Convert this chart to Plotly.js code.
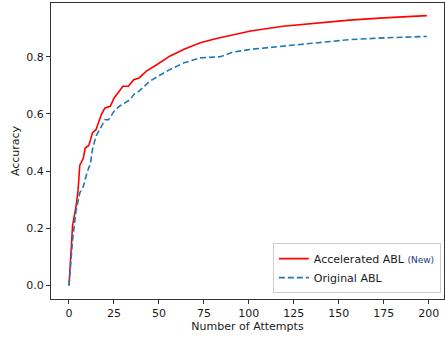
<!DOCTYPE html>
<html>
<head>
<meta charset="utf-8">
<script src="https://cdn.plot.ly/plotly-3.0.1.min.js"></script>
<style>html,body{margin:0;padding:0;background:#fff;}#chart{width:445px;height:339px;}</style>
</head>
<body>
<div id="chart"></div>
<script>
// Accelerated ABL (New) – attempts and accuracy
var accelAttempts = [0, 1, 2, 4, 5, 6, 8, 9, 11, 12, 13, 15, 17, 18, 20, 23, 25, 28, 30, 33, 36, 39, 43, 49, 56, 64, 73, 82, 101, 119, 138, 156, 175, 199];
var accelAccuracy = [0.0, 0.12, 0.21, 0.28, 0.33, 0.42, 0.446, 0.481, 0.49, 0.51, 0.534, 0.545, 0.58, 0.598, 0.621, 0.627, 0.655, 0.68, 0.697, 0.697, 0.72, 0.726, 0.75, 0.773, 0.802, 0.826, 0.849, 0.864, 0.89, 0.907, 0.919, 0.928, 0.936, 0.944];
// Original ABL
var origAttempts = [0, 1, 2, 4, 6, 8, 10, 12, 13, 15, 18, 20, 22, 25, 28, 34, 36, 39, 45, 51, 56, 64, 73, 84, 91, 101, 119, 138, 156, 175, 199];
var origAccuracy = [0.0, 0.08, 0.16, 0.265, 0.324, 0.347, 0.394, 0.429, 0.475, 0.522, 0.557, 0.58, 0.58, 0.609, 0.627, 0.65, 0.668, 0.68, 0.715, 0.738, 0.755, 0.779, 0.796, 0.8, 0.816, 0.826, 0.837, 0.851, 0.86, 0.866, 0.871];
var xTicks = [0, 25, 50, 75, 100, 125, 150, 175, 200];
var yTicks = [0.0, 0.2, 0.4, 0.6, 0.8];
var yTickText = ['0.0', '0.2', '0.4', '0.6', '0.8'];

var traces = [
  {x: accelAttempts, y: accelAccuracy, type: 'scatter', mode: 'lines',
   name: 'Accelerated ABL <span style="font-size:9px;color:#22398a">(New)</span>',
   line: {color: '#ff0000', width: 1.6}},
  {x: origAttempts, y: origAccuracy, type: 'scatter', mode: 'lines',
   name: 'Original ABL',
   line: {color: '#1f77b4', width: 1.6, dash: '6px,3px'}}
];

var txtFont = {family: 'DejaVu Sans', size: 11, color: '#1a1a1a'};
var axisCommon = {
  showline: true, mirror: true, linecolor: '#333', linewidth: 1,
  ticks: 'outside', ticklen: 4, tickwidth: 1, tickcolor: '#333',
  showgrid: false, zeroline: false,
  tickfont: txtFont
};

var layout = {
  width: 445, height: 339,
  margin: {l: 51, r: 1, t: 3, b: 40},
  paper_bgcolor: '#fff', plot_bgcolor: '#fff',
  font: txtFont,
  xaxis: Object.assign({}, axisCommon, {
    range: [-10, 208.5], tickvals: xTicks,
    title: {text: 'Number of Attempts', font: txtFont, standoff: 3}
  }),
  yaxis: Object.assign({}, axisCommon, {
    range: [-0.047, 0.988], tickvals: yTicks, ticktext: yTickText,
    title: {text: 'Accuracy', font: txtFont, standoff: 4}
  }),
  showlegend: true,
  legend: {
    x: 0.992, xanchor: 'right', y: 0.02, yanchor: 'bottom',
    bgcolor: 'rgba(255,255,255,0.8)', bordercolor: '#ccc', borderwidth: 1,
    font: txtFont,
    tracegroupgap: 0, itemwidth: 30
  }
};

Plotly.newPlot('chart', traces, layout, {displayModeBar: false, staticPlot: true});
</script>
</body>
</html>
